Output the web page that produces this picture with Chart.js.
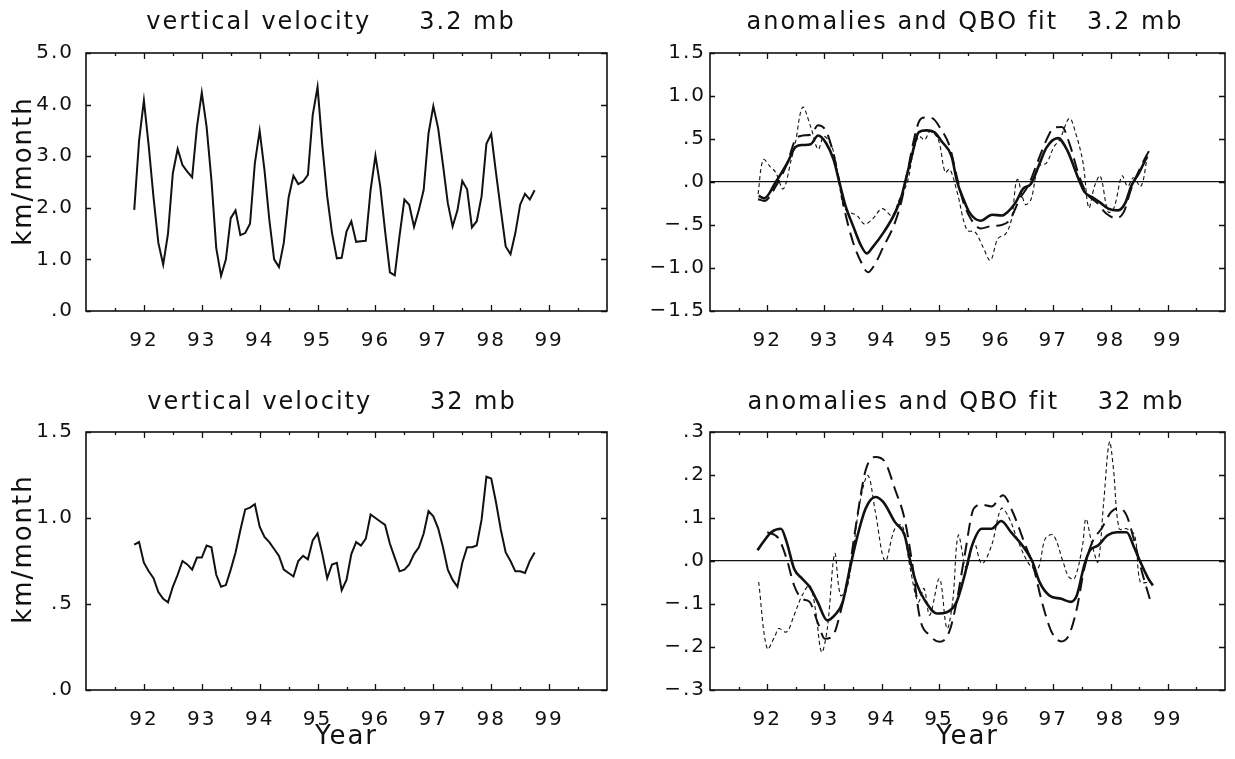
<!DOCTYPE html>
<html lang="en">
<head>
<meta charset="UTF-8">
<title>Vertical velocity and QBO fit</title>
<script src="https://cdn.jsdelivr.net/npm/chart.js"></script>
<style>
  body { margin: 0; background: #fff; width: 1235px; height: 759px; overflow: hidden; position: relative; }
  .panel { position: absolute; }
</style>
</head>
<body>
<div class="panel" style="left:0;top:0"><canvas id="vv3" width="617" height="375"></canvas></div>
<div class="panel" style="left:617px;top:0"><canvas id="qbo3" width="618" height="375"></canvas></div>
<div class="panel" style="left:0;top:375px"><canvas id="vv32" width="617" height="384"></canvas></div>
<div class="panel" style="left:617px;top:375px"><canvas id="qbo32" width="618" height="384"></canvas></div>

<script>
// x axis (years, 19xx)
const xMin = 91, xMax = 100;
const yearLabels = [92, 93, 94, 95, 96, 97, 98, 99];
const firstMonth = 91 + 10 / 12; // Nov 1991, monthly values

// vertical velocity, km/month
const vv3 = [1.96, 3.3, 4.08, 3.2, 2.2, 1.32, 0.9, 1.5, 2.67, 3.14,
  2.83, 2.7, 2.59, 3.57, 4.23, 3.57, 2.54, 1.22, 0.68, 1.0,
  1.8, 1.95, 1.47, 1.51, 1.69, 2.86, 3.49, 2.73, 1.77, 1.0,
  0.85, 1.32, 2.2, 2.62, 2.46, 2.51, 2.64, 3.8, 4.34, 3.19,
  2.22, 1.51, 1.02, 1.03, 1.54, 1.74, 1.34, 1.35, 1.36, 2.35,
  3.01, 2.41, 1.55, 0.75, 0.69, 1.46, 2.16, 2.06, 1.63, 1.96,
  2.35, 3.44, 3.97, 3.54, 2.83, 2.09, 1.64, 1.95, 2.52, 2.36,
  1.62, 1.74, 2.22, 3.24, 3.43, 2.67, 1.95, 1.25, 1.1, 1.51,
  2.06, 2.27, 2.16, 2.34];

const vv32 = [0.845, 0.86, 0.74, 0.69, 0.65, 0.57, 0.53, 0.51, 0.60, 0.67,
  0.75, 0.73, 0.70, 0.77, 0.77, 0.84, 0.83, 0.67, 0.60, 0.61,
  0.70, 0.80, 0.93, 1.05, 1.06, 1.08, 0.95, 0.89, 0.86, 0.82,
  0.78, 0.70, 0.68, 0.66, 0.75, 0.78, 0.76, 0.87, 0.91, 0.79,
  0.65, 0.73, 0.74, 0.58, 0.64, 0.79, 0.86, 0.84, 0.88, 1.02,
  1.00, 0.98, 0.96, 0.85, 0.77, 0.69, 0.70, 0.73, 0.79, 0.83,
  0.91, 1.04, 1.01, 0.94, 0.83, 0.70, 0.64, 0.60, 0.74, 0.83,
  0.83, 0.84, 0.99, 1.24, 1.23, 1.09, 0.93, 0.80, 0.75, 0.69,
  0.69, 0.68, 0.75, 0.80];

// 3.2 mb anomalies (thin dashed), smoothed (solid), QBO fit (long dashed)
const anom3Years = [91.84, 91.93, 92.05, 92.15, 92.28, 92.42, 92.49, 92.62, 92.76, 92.89,
  92.99, 93.13, 93.23, 93.33, 93.43, 93.57, 93.7, 93.84, 94.01, 94.18,
  94.31, 94.45, 94.55, 94.65, 94.75, 94.85, 94.99, 95.11, 95.19, 95.32,
  95.49, 95.63, 95.76, 95.9, 96.03, 96.17, 96.27, 96.37, 96.51, 96.61,
  96.74, 96.88, 97.01, 97.11, 97.28, 97.39, 97.52, 97.62, 97.72, 97.82,
  97.96, 98.06, 98.2, 98.3, 98.4, 98.53, 98.64];
const anom3 = [-0.14, 0.26, 0.18, 0.11, -0.08, 0.26, 0.45, 0.87, 0.64, 0.38,
  0.53, 0.41, 0.11, -0.28, -0.35, -0.39, -0.49, -0.43, -0.31, -0.39,
  -0.2, 0, 0.34, 0.53, 0.49, 0.59, 0.49, 0.11, 0.15, -0.12,
  -0.56, -0.58, -0.74, -0.91, -0.66, -0.6, -0.43, 0.03, -0.26, -0.2,
  0.18, 0.22, 0.41, 0.49, 0.74, 0.57, 0.22, -0.3, -0.05, 0.07,
  -0.35, -0.3, 0.07, -0.05, 0.05, -0.05, 0.28];

const smooth3Years = [91.85, 91.95, 92.15, 92.35, 92.5, 92.62, 92.76, 92.89, 93.03, 93.16,
  93.26, 93.37, 93.5, 93.64, 93.74, 93.84, 94.04, 94.24, 94.35, 94.41,
  94.51, 94.65, 94.78, 94.92, 95.05, 95.22, 95.32, 95.43, 95.53, 95.73,
  95.93, 96.1, 96.2, 96.34, 96.47, 96.61, 96.74, 96.88, 97.08, 97.25,
  97.42, 97.55, 97.69, 97.82, 97.96, 98.13, 98.26, 98.36, 98.5, 98.64];
const smooth3 = [-0.16, -0.19, 0, 0.22, 0.41, 0.43, 0.44, 0.54, 0.45, 0.26,
  0, -0.28, -0.51, -0.74, -0.83, -0.76, -0.58, -0.35, -0.16, 0,
  0.26, 0.58, 0.60, 0.58, 0.47, 0.30, 0, -0.2, -0.35, -0.45,
  -0.38, -0.39, -0.35, -0.24, -0.08, -0.02, 0.18, 0.40, 0.51, 0.36,
  0.07, -0.12, -0.18, -0.24, -0.31, -0.33, -0.24, -0.05, 0.11, 0.30];

const fit3Years = [91.84, 91.95, 92.15, 92.35, 92.49, 92.62, 92.76, 92.89, 93.03, 93.16,
  93.26, 93.36, 93.5, 93.64, 93.76, 93.87, 94.04, 94.21, 94.34, 94.45,
  94.55, 94.65, 94.75, 94.89, 95.02, 95.19, 95.31, 95.43, 95.56, 95.73,
  95.93, 96.1, 96.24, 96.41, 96.57, 96.74, 96.88, 97.01, 97.15, 97.28,
  97.45, 97.59, 97.76, 97.93, 98.09, 98.23, 98.36, 98.53, 98.67];
const fit3 = [-0.2, -0.22, -0.05, 0.22, 0.49, 0.54, 0.55, 0.66, 0.59, 0.32,
  0, -0.35, -0.70, -0.93, -1.05, -0.97, -0.74, -0.51, -0.24, 0.11,
  0.45, 0.70, 0.75, 0.74, 0.63, 0.41, 0.07, -0.24, -0.43, -0.54,
  -0.51, -0.50, -0.44, -0.2, -0.03, 0.26, 0.49, 0.63, 0.64, 0.45,
  0.07, -0.14, -0.24, -0.37, -0.42, -0.35, -0.08, 0.18, 0.36];

// 32 mb
const anom32Years = [91.85, 92.0, 92.14, 92.2, 92.34, 92.47, 92.61, 92.74, 92.84, 92.95,
  93.05, 93.18, 93.28, 93.39, 93.49, 93.62, 93.76, 93.89, 94.06, 94.23,
  94.36, 94.5, 94.64, 94.74, 94.84, 95.01, 95.14, 95.24, 95.34, 95.48,
  95.61, 95.75, 95.92, 96.09, 96.22, 96.39, 96.59, 96.73, 96.86, 97.0,
  97.17, 97.27, 97.37, 97.51, 97.57, 97.68, 97.78, 97.88, 97.98, 98.05,
  98.15, 98.28, 98.42, 98.52, 98.66];
const anom32 = [-0.049, -0.204, -0.173, -0.157, -0.165, -0.126, -0.08, -0.057, -0.111, -0.212,
  -0.157, 0.017, -0.08, -0.064, 0.013, 0.137, 0.199, 0.114, 0, 0.075,
  0.083, -0.018, -0.095, -0.064, -0.126, -0.041, -0.157, -0.095, 0.06, -0.018,
  0.044, -0.006, 0.036, 0.122, 0.102, 0.044, -0.01, -0.018, 0.052, 0.06,
  -0.002, -0.037, -0.041, 0.036, 0.098, 0.036, -0.002, 0.137, 0.277, 0.215,
  0.075, 0.075, 0.06, -0.049, -0.049];

const smooth32Years = [91.83, 91.93, 92.07, 92.24, 92.34, 92.47, 92.61, 92.74, 92.88, 93.05,
  93.18, 93.32, 93.42, 93.55, 93.72, 93.89, 94.03, 94.23, 94.4, 94.5,
  94.6, 94.77, 94.97, 95.14, 95.31, 95.45, 95.58, 95.75, 95.92, 96.09,
  96.26, 96.46, 96.63, 96.76, 96.93, 97.14, 97.3, 97.41, 97.54, 97.64,
  97.78, 97.95, 98.11, 98.28, 98.42, 98.52, 98.66, 98.74];
const smooth32 = [0.025, 0.044, 0.067, 0.075, 0.044, -0.018, -0.041, -0.06, -0.095, -0.138,
  -0.126, -0.095, -0.033, 0.044, 0.122, 0.149, 0.137, 0.091, 0.06, 0,
  -0.049, -0.095, -0.122, -0.119, -0.095, -0.033, 0.036, 0.075, 0.075, 0.093,
  0.067, 0.036, 0, -0.049, -0.08, -0.088, -0.095, -0.08, -0.01, 0.025,
  0.036, 0.06, 0.067, 0.067, 0.029, -0.002, -0.041, -0.057];

const fit32Years = [92.0, 92.2, 92.34, 92.47, 92.61, 92.74, 92.88, 93.01, 93.15, 93.28,
  93.42, 93.55, 93.72, 93.89, 94.06, 94.23, 94.4, 94.53, 94.67, 94.84,
  95.01, 95.18, 95.31, 95.45, 95.61, 95.75, 95.92, 96.12, 96.29, 96.49,
  96.66, 96.8, 96.97, 97.14, 97.27, 97.41, 97.54, 97.68, 97.84, 98.01,
  98.15, 98.28, 98.42, 98.55, 98.72];
const fit32 = [0.067, 0.052, 0.005, -0.057, -0.088, -0.095, -0.142, -0.181, -0.173, -0.119,
  -0.033, 0.083, 0.211, 0.242, 0.23, 0.168, 0.098, -0.002, -0.134, -0.173,
  -0.188, -0.165, -0.095, 0.013, 0.122, 0.131, 0.127, 0.153, 0.114, 0.044,
  -0.018, -0.095, -0.165, -0.187, -0.173, -0.111, -0.018, 0.044, 0.075, 0.114,
  0.123, 0.106, 0.044, -0.026, -0.103];

const ink = '#111';
Chart.defaults.font.family = "'DejaVu Sans', sans-serif";
Chart.defaults.color = ink;

// wide, plotter-like lettering
Chart.register({
  id: 'spacing',
  beforeLayout(chart) { chart.ctx.letterSpacing = '2px'; },
  beforeDraw(chart) { chart.ctx.letterSpacing = '2px'; }
});

// panel heading and (optional) rotated y label
const panelText = {
  id: 'panelText',
  afterDraw(chart, args, opts) {
    const ctx = chart.ctx;
    ctx.save();
    ctx.letterSpacing = '2px';
    ctx.fillStyle = ink;
    ctx.textAlign = 'center';
    ctx.textBaseline = 'middle';
    ctx.font = "24px 'DejaVu Sans', sans-serif";
    ctx.fillText(opts.title, opts.titleX, opts.titleY);
    if (opts.yTitle) {
      ctx.font = "26px 'DejaVu Sans', sans-serif";
      ctx.translate(opts.yTitleX, opts.yTitleY);
      ctx.rotate(-Math.PI / 2);
      ctx.fillText(opts.yTitle, 0, 0);
    }
    ctx.restore();
  }
};

// box round the plot with inward ticks (years and half years, y ticks)
const frameTicks = {
  id: 'frameTicks',
  afterDatasetsDraw(chart) {
    const {ctx, chartArea: a, scales: {x, y}} = chart;
    ctx.save();
    ctx.strokeStyle = ink;
    ctx.lineWidth = 1.6;
    ctx.strokeRect(a.left, a.top, a.right - a.left, a.bottom - a.top);
    ctx.lineWidth = 1.3;
    ctx.beginPath();
    for (let v = xMin + 0.5; v < xMax; v += 0.5) {
      const px = Math.round(x.getPixelForValue(v)) + 0.5;
      const len = Number.isInteger(v) ? 6 : 3;
      ctx.moveTo(px, a.bottom); ctx.lineTo(px, a.bottom - len);
      ctx.moveTo(px, a.top); ctx.lineTo(px, a.top + len);
    }
    y.ticks.forEach(t => {
      const py = Math.round(y.getPixelForValue(t.value)) + 0.5;
      ctx.moveTo(a.left, py); ctx.lineTo(a.left + 5, py);
      ctx.moveTo(a.right, py); ctx.lineTo(a.right - 6, py);
    });
    ctx.stroke();
    ctx.restore();
  }
};

function pairs(xs, ys) {
  return ys.map((v, i) => ({x: xs[i], y: v}));
}
function monthly(ys) {
  return ys.map((v, i) => ({x: firstMonth + i / 12, y: v}));
}
function fmt(v) {
  const s = Math.abs(v).toFixed(1).replace(/^0/, '');
  return (v < -1e-9 ? '\u2212' : '') + s;
}

const solid = {borderColor: ink, borderWidth: 2.6, pointRadius: 0, cubicInterpolationMode: 'monotone'};
const longDash = {borderColor: ink, borderWidth: 2, borderDash: [13, 7], pointRadius: 0, cubicInterpolationMode: 'monotone'};
const shortDash = {borderColor: ink, borderWidth: 1.1, borderDash: [4, 3], pointRadius: 0, tension: 0.35};
const plain = {borderColor: ink, borderWidth: 2, pointRadius: 0, tension: 0};

function panel(id, o) {
  return new Chart(document.getElementById(id), {
    type: 'line',
    data: {datasets: o.datasets},
    plugins: [panelText, frameTicks],
    options: {
      responsive: false,
      animation: false,
      events: [],
      layout: {padding: {top: o.top, right: o.right, left: 0, bottom: 0}},
      plugins: {
        legend: {display: false},
        tooltip: {enabled: false},
        panelText: {
          title: o.title, titleX: o.titleX, titleY: o.titleY,
          yTitle: o.yTitle ? 'km/month' : '', yTitleX: 24, yTitleY: o.yTitleY
        }
      },
      scales: {
        x: {
          type: 'linear', min: xMin, max: xMax,
          afterFit: s => { s.height = o.xHeight; },
          grid: {display: false},
          border: {display: false},
          ticks: {
            stepSize: 1, autoSkip: false, maxRotation: 0, padding: 10,
            font: {size: 20},
            callback: v => yearLabels.includes(v) ? String(v) : ''
          },
          title: {display: !!o.xTitle, text: 'Year', font: {size: 26}, padding: {top: 0, bottom: 6}}
        },
        y: {
          type: 'linear', min: o.yMin, max: o.yMax,
          afterFit: s => { s.width = o.yWidth; },
          grid: o.zeroLine
            ? {drawTicks: false, lineWidth: 1.2, color: c => (c.tick && c.tick.value === 0) ? ink : 'rgba(0,0,0,0)'}
            : {display: false},
          border: {display: false},
          ticks: {stepSize: o.yStep, autoSkip: false, padding: 4, font: {size: 20}, callback: v => fmt(v)}
        }
      }
    }
  });
}

panel('vv3', {
  title: 'vertical velocity     3.2 mb', titleX: 331, titleY: 23,
  top: 53, right: 9, yWidth: 86, xHeight: 64,
  yMin: 0, yMax: 5, yStep: 1, yTitle: true, yTitleY: 171,
  datasets: [Object.assign({data: monthly(vv3)}, plain)]
});

panel('qbo3', {
  title: 'anomalies and QBO fit   3.2 mb', titleX: 348, titleY: 23,
  top: 53, right: 4, yWidth: 93, xHeight: 64,
  yMin: -1.5, yMax: 1.5, yStep: 0.5, zeroLine: true,
  datasets: [
    Object.assign({data: pairs(anom3Years, anom3)}, shortDash),
    Object.assign({data: pairs(fit3Years, fit3)}, longDash),
    Object.assign({data: pairs(smooth3Years, smooth3)}, solid)
  ]
});

panel('vv32', {
  title: 'vertical velocity      32 mb', titleX: 332, titleY: 28,
  top: 57, right: 9, yWidth: 86, xHeight: 69,
  yMin: 0, yMax: 1.5, yStep: 0.5, yTitle: true, yTitleY: 174, xTitle: true,
  datasets: [Object.assign({data: monthly(vv32)}, plain)]
});

panel('qbo32', {
  title: 'anomalies and QBO fit    32 mb', titleX: 349, titleY: 28,
  top: 57, right: 4, yWidth: 93, xHeight: 69,
  yMin: -0.3, yMax: 0.3, yStep: 0.1, zeroLine: true, xTitle: true,
  datasets: [
    Object.assign({data: pairs(anom32Years, anom32)}, shortDash),
    Object.assign({data: pairs(fit32Years, fit32)}, longDash),
    Object.assign({data: pairs(smooth32Years, smooth32)}, solid)
  ]
});
</script>
</body>
</html>
